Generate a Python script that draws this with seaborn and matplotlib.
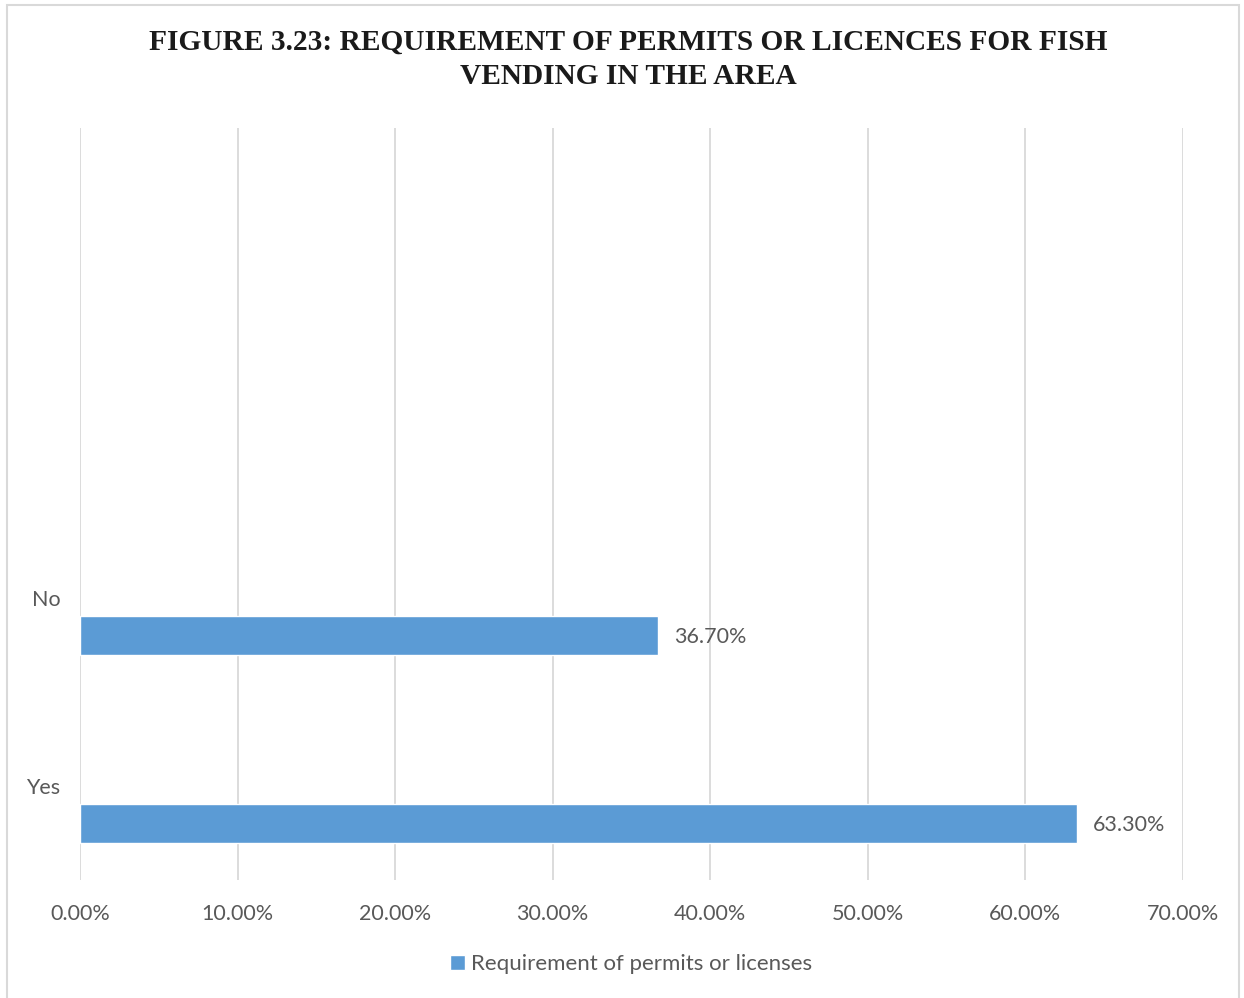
import matplotlib
matplotlib.use("Agg")
import matplotlib.pyplot as plt
import matplotlib.patches as mpatches
import seaborn as sns
import pandas as pd

# Survey responses
categories = ["No", "Yes"]
shares = [36.70, 63.30]
series_name = "Requirement of permits or licenses"
# Category axis rows (two empty rows sit above the answers)
slots = ["", "", "No", "Yes"]
x_ticks = [0, 10, 20, 30, 40, 50, 60, 70]
title = "FIGURE 3.23: REQUIREMENT OF PERMITS OR LICENCES FOR FISH\nVENDING IN THE AREA"

sns.set_theme(style="white")
plt.rcParams["font.family"] = ["Lato", "DejaVu Sans"]

TEXT = "#595959"
BLUE = "#5B9BD5"
GRID = "#D9D9D9"
FS = 15.5

W, H = 1244, 998
fig = plt.figure(figsize=(W / 100, H / 100), dpi=100)
fig.patch.set_facecolor("white")
ax = fig.add_axes([80 / W, 1 - 880 / H, (1183 - 80) / W, (880 - 128) / H])

df = pd.DataFrame({"category": categories, "share": shares})
df["pos"] = [slots.index(c) + 0.2 for c in categories]

sns.barplot(data=df, x="share", y="pos", orient="h", native_scale=True,
            width=0.207, color=BLUE, saturation=1, errorbar=None,
            label=series_name, ax=ax, zorder=3)

ax.set_xlim(0, 70)
ax.set_ylim(len(slots) - 0.5, -0.5)
ax.set_xticks(x_ticks)
ax.set_xticklabels([f"{t:.2f}%" for t in x_ticks], fontsize=FS, color=TEXT)
ax.set_yticks(range(len(slots)))
ax.set_yticklabels(slots, fontsize=FS, color=TEXT)
ax.tick_params(axis="x", length=0, pad=17)
ax.tick_params(axis="y", length=0, pad=14)
ax.set_xlabel("")
ax.set_ylabel("")
ax.grid(axis="x", color=GRID, linewidth=1.3, zorder=0)
ax.grid(axis="y", visible=False)
for s in ax.spines.values():
    s.set_visible(False)

for v, p in zip(df["share"], df["pos"]):
    ax.text(v + 1.0, p + 0.01, f"{v:.2f}%", va="center", ha="left",
            fontsize=FS, color=TEXT)

leg = ax.legend(loc="center", bbox_to_anchor=(0.5, -0.112), frameon=False,
                fontsize=16, handlelength=0.65, handleheight=0.65,
                handletextpad=0.3, borderaxespad=0)
for t in leg.get_texts():
    t.set_color(TEXT)

fig.text(628 / W, 1 - 29 / H, title, ha="center", va="top",
         fontsize=21.2, fontweight="bold", family="Liberation Serif",
         color="#1a1a1a", linespacing=1.33)

# chart frame
fig.patches.append(mpatches.Rectangle((7 / W, -0.01), (1239 - 7) / W, 1 - 5 / H + 0.01,
                                      transform=fig.transFigure, fill=False,
                                      edgecolor="#D9D9D9", linewidth=1.5))

fig.savefig("out.png", dpi=100)
